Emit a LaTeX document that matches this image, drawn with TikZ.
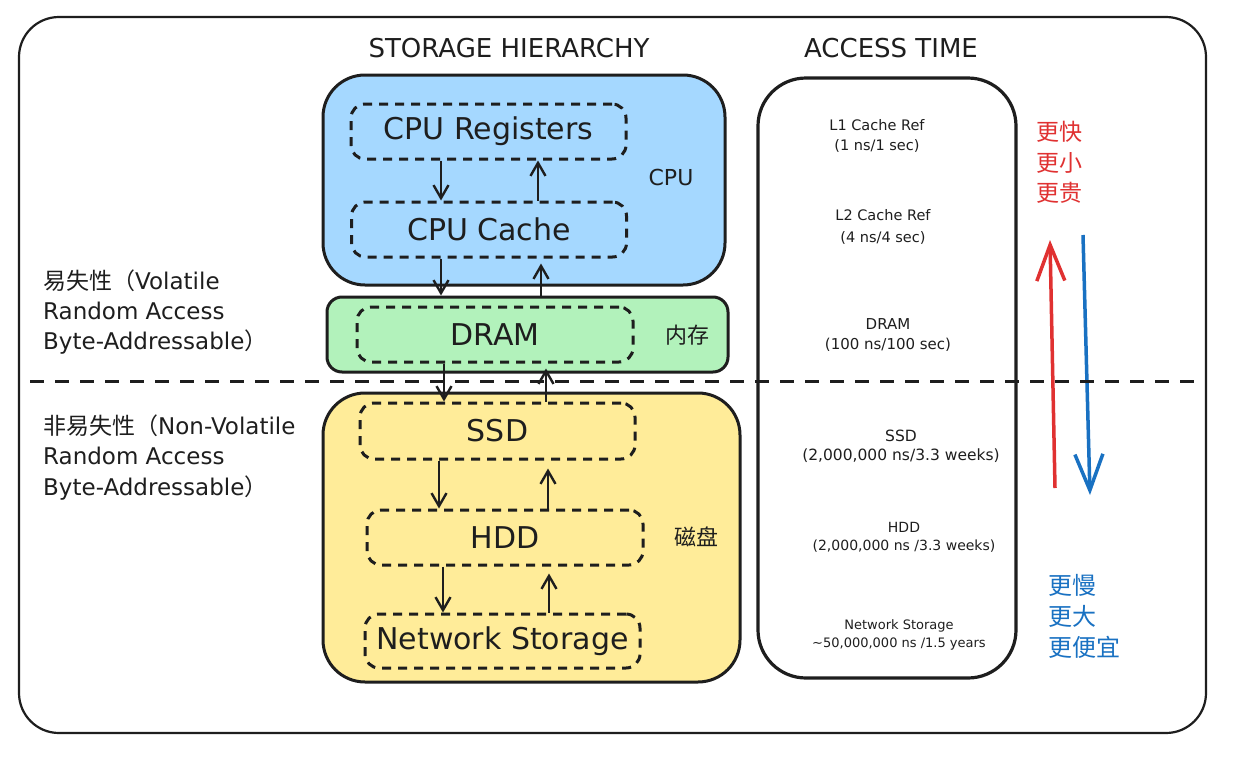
\documentclass[tikz,border=0pt]{standalone}
\usepackage{fontspec}
\setmainfont{DejaVu Sans}
\newfontfamily\cjk{Noto Sans CJK SC}
\usetikzlibrary{arrows.meta,calc}
\definecolor{cpublue}{HTML}{A5D8FF}
\definecolor{dramgreen}{HTML}{B2F2BB}
\definecolor{diskyellow}{HTML}{FFEC99}
\definecolor{xred}{HTML}{E03131}
\definecolor{xblue}{HTML}{1971C2}
\definecolor{ink}{HTML}{1E1E1E}
\tikzset{
  frame/.style={draw=ink, line width=2.2pt, rounded corners=40pt},
  group/.style={draw=ink, line width=3pt, inner sep=0pt},
  dbox/.style={draw=ink, line width=3pt, dash pattern=on 9pt off 7pt, rounded corners=14pt,
    minimum width=275pt, minimum height=55pt, inner sep=0pt, text=ink,
    font=\fontsize{30}{32}\selectfont},
  flow/.style={draw=ink, line width=2.4pt, -{Straight Barb[length=13pt,width=15pt]}},
  bigarrow/.style={line width=3.5pt, -{Straight Barb[length=36pt,width=28pt]}},
  title/.style={text=ink, inner sep=0pt, font=\fontsize{26}{28}\selectfont},
  grouplabel/.style={text=ink, inner sep=0pt, font=\cjk\fontsize{22}{24}\selectfont},
  atime/.style={text=ink, inner sep=0pt, align=center},
  sidetext/.style={text=ink, inner sep=0pt, align=left, anchor=west},
  cjklist/.style={inner sep=0pt, align=left, anchor=north west},
}
\begin{document}
\begin{tikzpicture}[x=1pt,y=-1pt]
\fill[white] (0,0) rectangle (1237,763);
\useasboundingbox (0,0) rectangle (1237,763);

% outer frame
\draw[frame] (19,17) rectangle (1206,733);

% titles
\node[title] (t1) at (509,48) {STORAGE HIERARCHY};
\node[title] (t2) at (891,48) {ACCESS TIME};

% group boxes
\node[group, fill=cpublue, rounded corners=42pt, minimum width=402pt, minimum height=210pt] (cpu) at (524,180) {};
\node[group, fill=dramgreen, rounded corners=15pt, minimum width=401pt, minimum height=75pt] (dramg) at (527.5,334.5) {};
\node[group, fill=diskyellow, rounded corners=42pt, minimum width=417pt, minimum height=289pt] (disk) at (531.5,537.5) {};

% dashed inner boxes
\node[dbox] (reg) at (488.5,131.5) {CPU Registers};
\node[dbox] (cache) at (489,229.5) {CPU Cache};
\node[dbox, minimum width=276pt] (dram) at (495,334.5) {DRAM};
\node[dbox, minimum height=56pt] (ssd) at (497.5,431) {SSD};
\node[dbox, minimum width=276pt] (hdd) at (505,537.5) {HDD};
\node[dbox, minimum height=54pt] (net) at (502.5,641) {Network Storage};

% group labels
\node[title, font=\fontsize{22}{24}\selectfont] (lcpu) at (671,177) {CPU};
\node[grouplabel] (lmem) at (687,335) {内存};
\node[grouplabel] (ldisk) at (696,537) {磁盘};

% flows
\draw[flow] ([xshift=-47.5pt]reg.south) -- ([xshift=-48pt]cache.north);
\draw[flow] ([xshift=49pt]cache.north) -- ([xshift=49.5pt]reg.south);
\draw[flow] ([xshift=-48pt]cache.south) -- ([xshift=-86.5pt]dramg.north);
\draw[flow] ([xshift=13.5pt]dramg.north) -- ([xshift=52pt,yshift=-5pt]cache.south);
\draw[flow] ([xshift=-51pt]dram.south) -- ([xshift=-53.5pt]ssd.north);
\draw[flow] ([xshift=48.5pt]ssd.north) -- ([xshift=18.5pt,yshift=5pt]dramg.south);
\draw[flow] ([xshift=-58.5pt]ssd.south) -- ([xshift=-66pt]hdd.north);
\draw[flow] ([xshift=43pt]hdd.north) -- ([xshift=50.5pt,yshift=-8pt]ssd.south);
\draw[flow] ([xshift=-62pt]hdd.south) -- ([xshift=-59.5pt]net.north);
\draw[flow] ([xshift=46.5pt]net.north) -- ([xshift=44pt,yshift=-7pt]hdd.south);

% access time box
\node[group, fill=white, line width=3.2pt, rounded corners=48pt, minimum width=258pt, minimum height=600pt] (access) at (887,378) {};
\node[atime, font=\fontsize{14.5}{20}\selectfont] (a1) at (877,135.5) {L1 Cache Ref\\(1 ns/1 sec)};
\node[atime, font=\fontsize{14.5}{22}\selectfont] (a2) at (883,227) {L2 Cache Ref\\(4 ns/4 sec)};
\node[atime, font=\fontsize{15}{20}\selectfont] (a3) at (888,335) {DRAM\\(100 ns/100 sec)};
\node[atime, font=\fontsize{15.5}{19.5}\selectfont] (a4) at (901,446.5) {SSD\\(2,000,000 ns/3.3 weeks)};
\node[atime, font=\fontsize{14}{18}\selectfont] (a5) at (904,537.5) {HDD\\(2,000,000 ns /3.3 weeks)};
\node[atime, font=\fontsize{13}{18}\selectfont] (a6) at (899,634.5) {Network Storage\\\textasciitilde 50,000,000 ns /1.5 years};

% side labels
\node[sidetext, font=\fontsize{23}{30}\selectfont] (vol) at (43,312) {{\cjk 易失性（}Volatile\\Random Access\\Byte-Addressable{\cjk ）}};
\node[sidetext, font=\fontsize{23}{30.5}\selectfont] (nvol) at (43,457.5) {{\cjk 非易失性（}Non-Volatile\\Random Access\\Byte-Addressable{\cjk ）}};

% trend labels
\node[cjklist, text=xred, font=\cjk\fontsize{23}{30.5}\selectfont] (fast) at (1036,121) {更快\\更小\\更贵};
\node[cjklist, text=xblue, font=\cjk\fontsize{24}{31}\selectfont] (slow) at (1048,574) {更慢\\更大\\更便宜};

% trend arrows
\coordinate (r0) at (1055,488);
\coordinate (r1) at (1050,240);
\coordinate (b0) at (1083,235);
\coordinate (b1) at (1090,495);
\draw[bigarrow, xred] (r0) -- (r1);
\draw[bigarrow, xblue] (b0) -- (b1);

% divider
\coordinate (d0) at (30,381);
\coordinate (d1) at (1205,381);
\draw[ink, line width=3pt, dash pattern=on 14pt off 11pt] (d0) -- (d1);
\end{tikzpicture}
\end{document}
